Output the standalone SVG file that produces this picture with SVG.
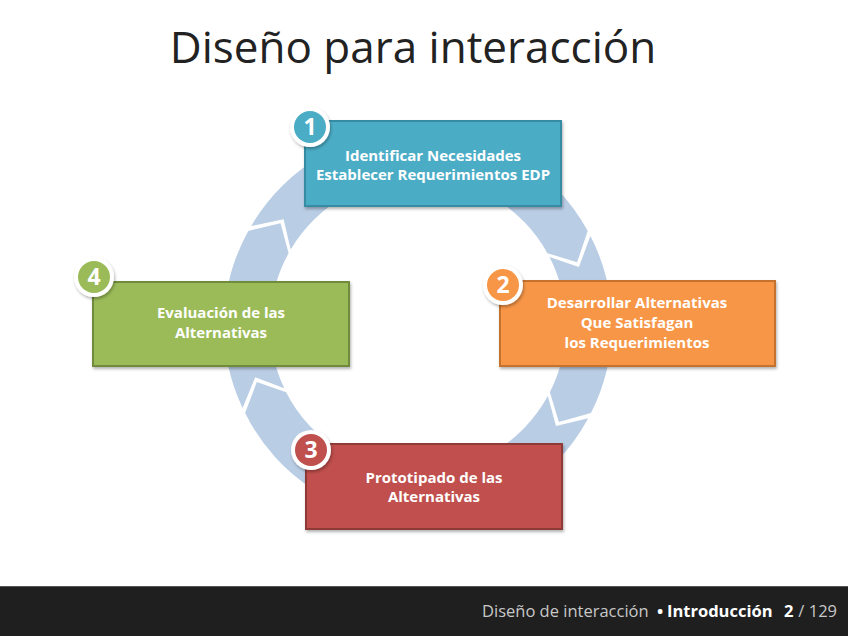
<svg xmlns="http://www.w3.org/2000/svg" width="848" height="636" viewBox="0 0 848 636">
<defs>
<filter id="sh" x="-20%" y="-20%" width="140%" height="150%">
<feDropShadow dx="1" dy="2" stdDeviation="1.5" flood-color="#000" flood-opacity="0.3"/>
</filter>
<style>
.ring{fill:#B9CDE5}
.box{stroke-width:2}
.bt{font-family:"Open Sans","Liberation Sans",sans-serif;font-weight:700;font-size:15px;fill:#fff;text-anchor:middle}
.num{font-family:"Open Sans","Liberation Sans",sans-serif;font-weight:700;font-size:23px;fill:#fff;text-anchor:middle}
.ft{font-family:"Open Sans","Liberation Sans",sans-serif;font-size:16.5px;fill:#c8c8c8}
.fb{font-weight:700;fill:#fff}
</style>
</defs>
<rect width="848" height="636" fill="#fff"/>
<text x="413" y="63" font-family="Open Sans, Liberation Sans, sans-serif" font-size="44" fill="#222" text-anchor="middle">Diseño para interacción</text>

<g id="connectors">
<path class="ring" d="M251.2,226.0 A193,193 0 0 1 587.7,230.9 L577.1,262.3 L547.4,253.2 A148,148 0 0 0 290.7,249.4 L283.6,219.3 Z"/>
<path class="ring" d="M590.4,236.0 A193,193 0 0 1 590.9,413.1 L558.9,421.9 L549.9,392.2 A148,148 0 0 0 549.5,257.1 L578.9,267.1 Z"/>
<path class="ring" d="M588.2,418.2 A193,193 0 0 1 245.1,413.1 L256.8,382.1 L286.1,392.2 A148,148 0 0 0 547.8,396.1 L556.0,426.0 Z"/>
<path class="ring" d="M242.6,407.9 A193,193 0 0 1 248.3,230.9 L280.5,223.3 L288.6,253.2 A148,148 0 0 0 284.2,388.3 L255.2,377.3 Z"/>
</g>

<g id="node1">
<rect class="box" x="305" y="121" width="256" height="85" fill="#4BACC6" stroke="#358CA3" filter="url(#sh)"/>
<text class="bt" x="433" y="161">Identificar Necesidades</text>
<text class="bt" x="433" y="180">Establecer Requerimientos EDP</text>
<circle cx="310" cy="127" r="20" fill="#fff" filter="url(#sh)"/>
<circle cx="310" cy="127" r="16" fill="#4BACC6"/>
<text class="num" x="310" y="135">1</text>
</g>

<g id="node2">
<rect class="box" x="500" y="281" width="275" height="85" fill="#F79646" stroke="#C4722F" filter="url(#sh)"/>
<text class="bt" x="637" y="308">Desarrollar Alternativas</text>
<text class="bt" x="637" y="328">Que Satisfagan</text>
<text class="bt" x="637" y="348">los Requerimientos</text>
<circle cx="503" cy="285" r="20" fill="#fff" filter="url(#sh)"/>
<circle cx="503" cy="285" r="16" fill="#F79646"/>
<text class="num" x="503" y="293">2</text>
</g>

<g id="node3">
<rect class="box" x="306" y="444" width="256" height="85" fill="#C0504D" stroke="#8E3A38" filter="url(#sh)"/>
<text class="bt" x="434" y="483">Prototipado de las</text>
<text class="bt" x="434" y="502">Alternativas</text>
<circle cx="311" cy="450" r="20" fill="#fff" filter="url(#sh)"/>
<circle cx="311" cy="450" r="16" fill="#C0504D"/>
<text class="num" x="311" y="458">3</text>
</g>

<g id="node4">
<rect class="box" x="93" y="282" width="256" height="84" fill="#9BBB59" stroke="#6F8B3A" filter="url(#sh)"/>
<text class="bt" x="221" y="318">Evaluación de las</text>
<text class="bt" x="221" y="338">Alternativas</text>
<circle cx="94" cy="277" r="20" fill="#fff" filter="url(#sh)"/>
<circle cx="94" cy="277" r="16" fill="#9BBB59"/>
<text class="num" x="94" y="285">4</text>
</g>

<g id="footer">
<rect x="0" y="586" width="848" height="50" fill="#1f1f1f"/>
<line x1="0" y1="586.5" x2="848" y2="586.5" stroke="#555" stroke-width="1"/>
<text class="ft" x="482" y="617">Diseño de interacción</text>
<text class="ft fb" x="657" y="617">•</text>
<text class="ft fb" x="667" y="617">Introducción</text>
<text class="ft fb" x="784" y="617">2</text>
<text class="ft" x="837" y="617" text-anchor="end">/ 129</text>
</g>
</svg>
